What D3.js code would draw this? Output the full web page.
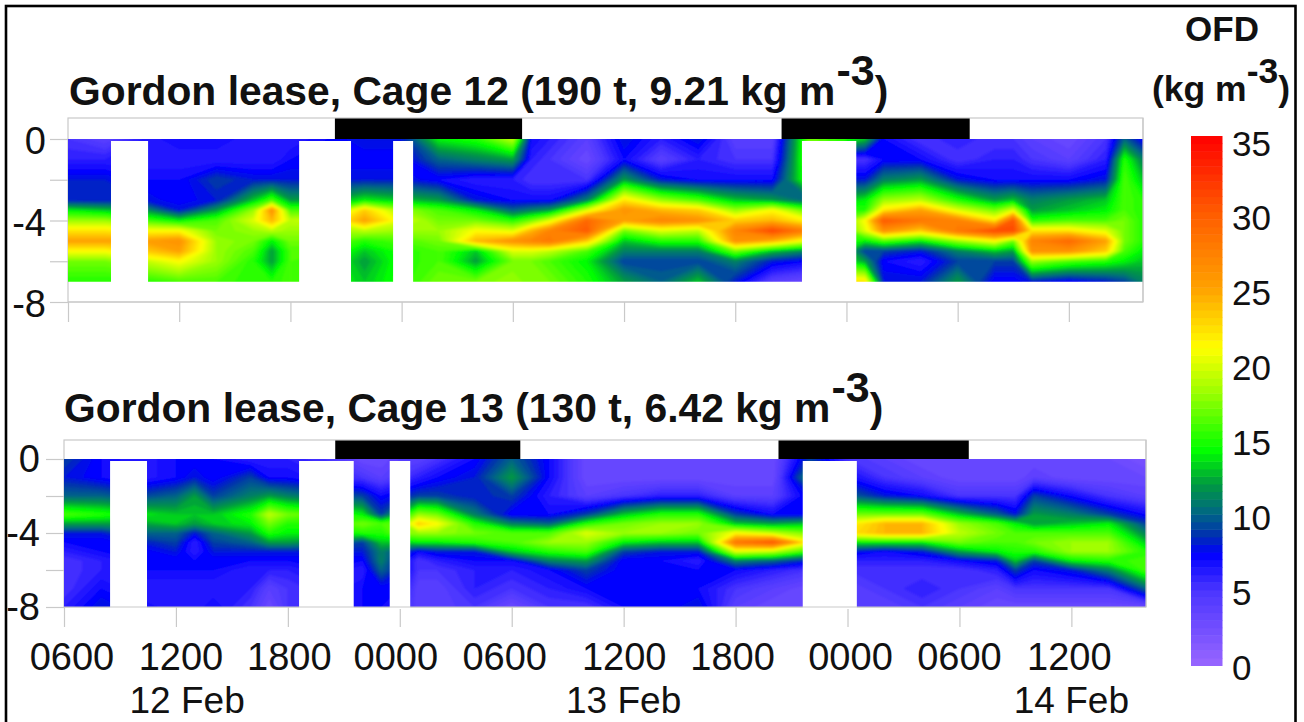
<!DOCTYPE html>
<html><head><meta charset="utf-8">
<script src="https://cdn.jsdelivr.net/npm/d3@7"></script>
<style>html,body{margin:0;padding:0;background:#fff}svg{display:block}text{font-family:"Liberation Sans",Arial,sans-serif;fill:#111}</style>
</head><body><svg id="c" width="1304" height="722"></svg>
<script>
// ---- data ----
const timeTickHours = [0,6,12,18,24,30,36,42,48,54];
const timeTickLabels = ["0600","1200","1800","0000","0600","1200","1800","0000","0600","1200"];
const dateLabels = ["12 Feb","13 Feb","14 Feb"];
const dateHours = [6.6,30,54];
const depthTicks = [0,-2,-4,-6,-8];
const depthLabels = [0,-4,-8];
const legendTicks = [0,5,10,15,20,25,30,35];
const colorStops = [0,5,7.4,8.6,10.2,12,14.2,18,21,25,30,35];
const colorValues = ["#9966ff","#4a35ff","#0000ff","#0030b0","#006a80","#009a40","#00ff00","#99ff00","#ffff00","#ffa000","#ff5a00","#ff0000"];

const cage12Night = [[14.4,24.5],[38.5,48.65]];
const cage13Night = [[14.54,24.46],[38.3,48.5]];
const cage12Gaps = [[2.32,4.32],[12.47,15.27],[17.54,18.62],[39.6,42.53]];
const cage13Gaps = [[2.47,4.45],[12.6,15.53],[17.46,18.56],[39.6,42.5]];

const cage12Depths = [0,-1,-2,-3,-3.5,-4,-4.5,-5,-5.5,-6,-7];
const cage12Hours = [0,2,4,6,8,10,11,12,14,16,18,20,22,24,25,26,28,30,32,34,36,38,40,42,43,44,46,48,50,51,52,54,56,57,58];
const cage12Ofd = [
[5,6,8,8,14,18,22,25,21,17,15],
[4,6,8,8,13,18,22,25,21,17,15],
[6,6,7,8,12,16,21,25,23,19,15],
[7,6,7,7,8,14,21,26,25,21,16],
[7,6,9,8,12,16,17,18,18,18,16],
[6,6,8,13,18,20,18,17,16,15,15],
[6,6,8,16,26,24,19,14,12,12,15],
[6,7,8,12,16,19,18,17,16,16,16],
[7,7,8,12,16,20,18,17,16,15,15],
[8,7,8,14,23,25,19,15,13,12,13],
[8,7,8,13,18,20,18,16,15,15,15],
[14,10,7,12,16,17,18,17,16,16,17],
[15,11,6,8,14,17,21,24,13,12,17],
[19,12,6,7,10,15,20,26,20,17,18],
[7,6,5,7,11,17,24,27,20,17,17],
[6,5,5,7,12,20,27,28,19,16,17],
[4,3,5,11,20,29,30,23,16,14,15],
[8,7,12,22,26,25,17,13,11,9,12],
[6,4,8,18,24,27,20,15,11,9,10],
[8,6,7,16,23,26,19,15,11,9,13],
[4,5,7,13,18,23,27,26,17,11,8],
[4,5,7,12,21,24,31,24,13,8,4],
[17,17,16,10,16,21,27,20,11,7,3],
[15,5,8,13,15,17,16,15,13,14,22],
[13,5,8,14,15,21,20,14,9,12,22],
[7,7,11,18,22,30,26,16,9,7,8],
[5,7,12,19,25,28,23,14,8,6,8],
[6,5,8,15,20,27,28,18,11,9,12],
[5,6,7,12,17,22,31,21,13,9,7],
[5,6,7,13,20,30,31,17,12,9,7],
[4,5,7,11,12,15,22,27,26,18,8],
[3,4,7,12,13,16,22,29,26,16,7],
[5,6,8,13,14,16,20,25,23,15,8],
[10,15,16,16,16,17,17,17,16,14,9],
[7,11,13,15,15,15,15,15,14,13,11]
];

const cage13Depths = [0,-1,-2,-3,-3.5,-4,-4.5,-5,-5.5,-6,-7,-8];
const cage13Hours = [0,2,4,6,7,8,10,11,12,14,16,17,18,19,20,22,24,26,28,30,32,34,36,38,40,42,44,46,48,50,51,52,54,56,58];
const cage13Ofd = [
[9,8,10,16,12,8,7,6,5,5,5,6],
[7,7,10,15,12,8,7,7,6,6,7,8],
[6,6,9,14,12,10,8,7,7,7,6,7],
[7,7,10,13,13,10,9,8,7,7,6,6],
[7,8,12,13,12,8,6,6,7,7,6,6],
[7,7,9,13,13,10,9,8,7,7,6,7],
[6,9,11,15,14,12,10,8,7,6,6,5],
[6,7,12,19,17,15,12,8,7,6,4,3],
[6,7,11,17,15,14,12,8,7,6,5,5],
[5,6,10,16,15,14,11,8,7,7,6,6],
[3,5,9,14,17,15,9,8,7,6,7,7],
[3,4,7,9,16,15,13,11,11,10,7,7],
[4,5,8,13,17,17,13,9,8,8,7,6],
[4,6,9,18,23,18,14,7,5,5,4,4],
[5,7,9,17,21,18,14,8,6,5,4,4],
[7,8,8,11,15,17,15,8,7,6,6,5],
[10,12,9,7,11,16,16,13,7,6,5,3],
[7,7,6,7,10,16,18,15,11,7,6,5],
[3,3,4,9,15,20,18,16,12,9,7,5],
[3,3,5,13,17,18,14,9,7,7,7,7],
[3,3,6,15,18,18,13,8,7,7,7,7],
[3,3,6,15,18,17,13,8,6,7,7,8],
[3,3,4,9,13,21,28,20,11,7,5,4],
[3,3,4,7,12,19,30,19,10,6,4,3],
[9,12,8,7,13,17,21,15,8,5,3,3],
[5,7,10,17,21,22,14,8,6,5,4,4],
[4,5,8,17,24,24,14,7,6,5,5,4],
[3,4,7,17,24,24,14,8,6,5,6,5],
[3,3,5,13,18,19,17,12,7,5,5,4],
[3,3,5,10,16,17,16,14,8,6,4,3],
[3,3,5,8,14,16,16,15,13,9,5,3],
[3,4,9,12,12,16,17,15,9,7,5,3],
[3,3,7,11,13,16,18,18,14,8,5,3],
[3,3,5,9,14,16,18,18,15,11,5,3],
[2,3,4,7,9,11,13,15,16,16,10,3]
];

// ---- layout ----
const svg = d3.select("#c");
const color = d3.scaleLinear().domain(colorStops).range(colorValues).clamp(true);
const thresholds = d3.range(0,35,0.5);
const GREY = "#c9c9c9";
const labelNudge = [8,5,1.5,-4,-7,0.5,-3,3,0,-2];

const defs = svg.append("defs");
const soft = defs.append("filter").attr("id","soft").attr("x","-2%").attr("y","-5%").attr("width","104%").attr("height","110%");
soft.append("feGaussianBlur").attr("stdDeviation",1.3);

svg.append("rect").attr("x",6).attr("y",6).attr("width",1289.5).attr("height",730).attr("fill","#fff").attr("stroke","#000").attr("stroke-width",2.6);

function panel(o){
  const x = d3.scaleLinear().domain([0,58]).range([o.x0,o.x1]);
  const y = d3.scaleLinear().domain([0,-8]).range([o.y0,o.y8]);
  const g = svg.append("g");
  g.append("rect").attr("x",o.x0).attr("y",o.yTop).attr("width",o.x1-o.x0).attr("height",o.y8-o.yTop)
    .attr("fill","#fff").attr("stroke",GREY).attr("stroke-width",1.2);
  const ax = d3.axisBottom(x).tickValues(timeTickHours).tickSize(o.tickLen).tickFormat("");
  const axG = g.append("g").attr("transform",`translate(0,${o.y8})`).call(ax);
  const ay = d3.axisLeft(y).tickValues(depthTicks).tickSize(18).tickFormat("");
  const ayG = g.append("g").attr("transform",`translate(${o.x0},0)`).call(ay);
  [axG,ayG].forEach(a=>{a.select(".domain").remove();a.selectAll("line").attr("stroke",GREY).attr("stroke-width",1.2);});
  g.selectAll(".dl").data(depthLabels).join("text").attr("x",o.labelRight).attr("y",d=>y(d)+o.labelDy)
    .attr("text-anchor","end").attr("font-size",38).text(d=>d);
  const nx=o.hours.length, ny=o.depths.length, vals=new Array(nx*ny);
  o.ofd.forEach((col,i)=>col.forEach((v,j)=>{vals[j*nx+i]=v;}));
  const gx=d3.scaleLinear().domain(o.hours.map((_,i)=>i+0.5)).range(o.hours);
  const gy=d3.scaleLinear().domain(o.depths.map((_,i)=>i+0.5)).range(o.depths);
  const path=d3.geoPath(d3.geoTransform({point(a,b){this.stream.point(x(gx(a)),y(gy(b)));}}));
  const contours=d3.contours().size([nx,ny]).thresholds(thresholds)(vals);
  const clipId="clip"+o.id;
  defs.append("clipPath").attr("id",clipId).append("rect").attr("x",o.x0).attr("y",y(0)).attr("width",o.x1-o.x0).attr("height",y(o.depths[ny-1])-y(0));
  g.append("g").attr("clip-path",`url(#${clipId})`).append("g").attr("filter","url(#soft)")
    .selectAll("path").data(contours).join("path").attr("d",path).attr("fill",d=>color(d.value+0.25)).attr("stroke",d=>color(d.value+0.25)).attr("stroke-width",0.3);
  g.selectAll(".gap").data(o.gaps).join("rect").attr("x",d=>x(d[0])).attr("width",d=>x(d[1])-x(d[0]))
    .attr("y",y(0)+2).attr("height",y(o.depths[ny-1])-y(0)).attr("fill","#fff");
  g.append("line").attr("x1",o.x0).attr("x2",o.x1).attr("y1",o.y8).attr("y2",o.y8).attr("stroke",GREY).attr("stroke-width",1.2);
  g.append("line").attr("x1",o.x1).attr("x2",o.x1).attr("y1",o.yTop).attr("y2",o.y8).attr("stroke",GREY).attr("stroke-width",1.2);
  g.selectAll(".night").data(o.night).join("rect").attr("x",d=>x(d[0])).attr("width",d=>x(d[1])-x(d[0]))
    .attr("y",o.yTop+0.5).attr("height",y(0)-o.yTop-0.5).attr("fill","#000");
  const t=svg.append("text").attr("x",o.titleX).attr("y",o.titleY).attr("font-weight","bold").attr("font-size",o.titleSize);
  t.append("tspan").text(o.title);
  t.append("tspan").attr("dy",-20).attr("dx",1).attr("font-size",43).text("-3");
  t.append("tspan").attr("dy",20).text(")");
  return x;
}

panel({id:12,x0:68,x1:1143,y0:139,y8:302,yTop:118,tickLen:20,labelRight:46,labelDy:15,hours:cage12Hours,depths:cage12Depths,ofd:cage12Ofd,
  gaps:cage12Gaps,night:cage12Night,title:"Gordon lease, Cage 12 (190 t, 9.21 kg m",titleX:69,titleY:105,titleSize:40.8});
const xb=panel({id:13,x0:64,x1:1146,y0:459,y8:607,yTop:440,tickLen:20,labelRight:40,labelDy:13,hours:cage13Hours,depths:cage13Depths,ofd:cage13Ofd,
  gaps:cage13Gaps,night:cage13Night,title:"Gordon lease, Cage 13 (130 t, 6.42 kg m",titleX:64,titleY:422,titleSize:40.8});

svg.selectAll(".tl").data(timeTickLabels).join("text").attr("x",(d,i)=>xb(timeTickHours[i])+labelNudge[i]).attr("y",670)
  .attr("text-anchor","middle").attr("font-size",38).text(d=>d);
svg.selectAll(".dt").data(dateLabels).join("text").attr("x",(d,i)=>xb(dateHours[i])).attr("y",713)
  .attr("text-anchor","middle").attr("font-size",37).text(d=>d);

const ly=d3.scaleLinear().domain([0,35]).range([665.5,136]);
const lyLabel=d3.scaleLinear().domain([0,35]).range([667.5,143]);
svg.selectAll(".lg").data(d3.range(0,35,0.5)).join("rect").attr("x",1191).attr("width",31.5)
  .attr("y",d=>ly(d+0.5)).attr("height",d=>ly(d)-ly(d+0.5)+0.5).attr("fill",d=>color(d+0.25));
svg.selectAll(".lt").data(legendTicks).join("text").attr("x",1232).attr("y",d=>lyLabel(d)+12.5)
  .attr("font-size",35).text(d=>d);
svg.append("text").attr("x",1222).attr("y",41).attr("text-anchor","middle").attr("font-weight","bold").attr("font-size",35).text("OFD");
const u=svg.append("text").attr("x",1152).attr("y",101).attr("font-weight","bold").attr("font-size",35.5);
u.append("tspan").text("(kg m");
u.append("tspan").attr("dy",-18).text("-3");
u.append("tspan").attr("dy",18).text(")");
</script></body></html>
